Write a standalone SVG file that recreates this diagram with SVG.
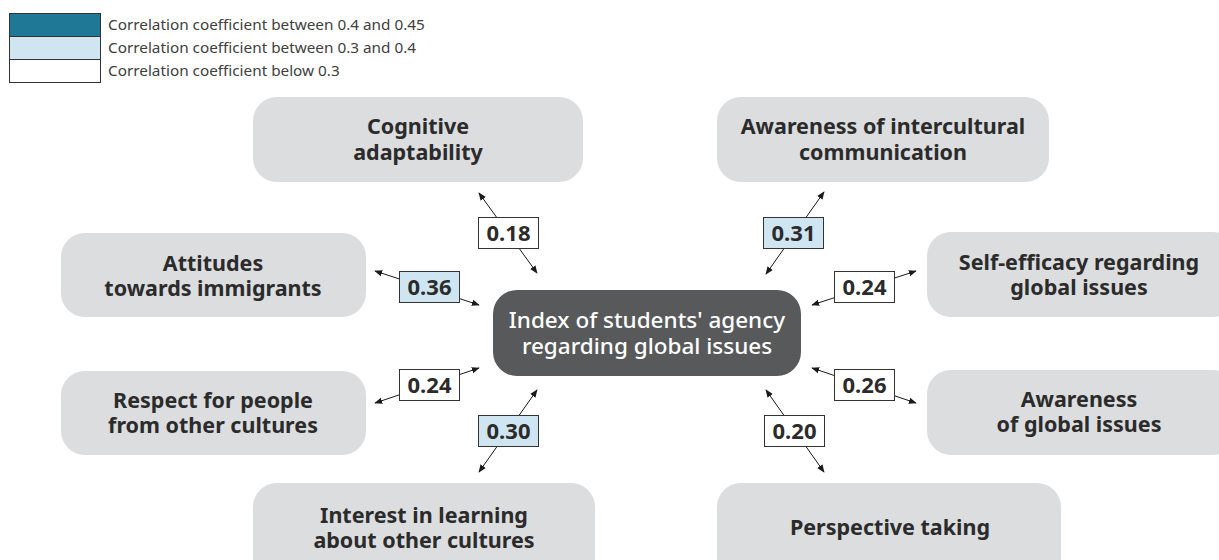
<svg xmlns="http://www.w3.org/2000/svg" width="1219" height="560" viewBox="0 0 1219 560">
  <defs>
    <marker id="tip" viewBox="0 0 10 10" refX="9" refY="5" markerWidth="8" markerHeight="8" markerUnits="userSpaceOnUse" orient="auto-start-reverse">
      <path d="M0,1 L10,5 L0,9 Z" fill="#1a1a1a"/>
    </marker>
    <style>
      .legend-txt { font-family: "Noto Sans", "Open Sans", sans-serif; font-size: 15.3px; fill: #404040; }
      .node rect { fill: #dcdddf; }
      .node text { font-family: "Noto Sans", "Open Sans", sans-serif; font-size: 21.5px; font-weight: bold; fill: #2b2b2b; text-anchor: middle; }
      .hub rect { fill: #58595b; }
      .hub text { font-family: "Noto Sans", "Open Sans", sans-serif; font-size: 22.5px; font-weight: 500; fill: #ffffff; text-anchor: middle; }
      .link { stroke: #1a1a1a; stroke-width: 1; fill: none; marker-start: url(#tip); marker-end: url(#tip); }
      .val rect { stroke: #333333; stroke-width: 1; }
      .val text { font-family: "Noto Sans", "Open Sans", sans-serif; font-size: 22px; font-weight: bold; fill: #2b2b2b; text-anchor: middle; }
      .lo { fill: #ffffff; }
      .mid { fill: #cfe5f1; }
      .hi { fill: #1e7896; }
    </style>
  </defs>

  <rect width="1219" height="560" fill="#ffffff"/>

  <!-- legend -->
  <g id="legend">
    <rect x="9.5" y="13.5" width="91" height="23" class="hi" stroke="#333" stroke-width="1"/>
    <rect x="9.5" y="36.5" width="91" height="23" class="mid" stroke="#333" stroke-width="1"/>
    <rect x="9.5" y="59.5" width="91" height="23" class="lo" stroke="#333" stroke-width="1"/>
    <text class="legend-txt" x="108" y="29.5">Correlation coefficient between 0.4 and 0.45</text>
    <text class="legend-txt" x="108" y="52.5">Correlation coefficient between 0.3 and 0.4</text>
    <text class="legend-txt" x="108" y="75.5">Correlation coefficient below 0.3</text>
  </g>

  <!-- outer nodes -->
  <g id="node-cognitive" class="node">
    <rect x="253" y="97" width="330" height="85" rx="24"/>
    <text x="418" y="134">Cognitive</text>
    <text x="418" y="160">adaptability</text>
  </g>
  <g id="node-intercultural" class="node">
    <rect x="717" y="97" width="332" height="85" rx="24"/>
    <text x="883" y="134">Awareness of intercultural</text>
    <text x="883" y="160">communication</text>
  </g>
  <g id="node-attitudes" class="node">
    <rect x="61" y="233" width="305" height="84" rx="24"/>
    <text x="213" y="271">Attitudes</text>
    <text x="213" y="296">towards immigrants</text>
  </g>
  <g id="node-selfefficacy" class="node">
    <rect x="927" y="232" width="310" height="85" rx="24"/>
    <text x="1079" y="270">Self-efficacy regarding</text>
    <text x="1079" y="295">global issues</text>
  </g>
  <g id="node-respect" class="node">
    <rect x="61" y="371" width="305" height="84" rx="24"/>
    <text x="213" y="408">Respect for people</text>
    <text x="213" y="433">from other cultures</text>
  </g>
  <g id="node-awareness-global" class="node">
    <rect x="927" y="370" width="310" height="85" rx="24"/>
    <text x="1079" y="407">Awareness</text>
    <text x="1079" y="432">of global issues</text>
  </g>
  <g id="node-interest" class="node">
    <rect x="253" y="483" width="342" height="100" rx="24"/>
    <text x="424" y="523">Interest in learning</text>
    <text x="424" y="548">about other cultures</text>
  </g>
  <g id="node-perspective" class="node">
    <rect x="717" y="483" width="344" height="100" rx="24"/>
    <text x="890" y="535">Perspective taking</text>
  </g>

  <!-- central index -->
  <g id="node-index" class="hub">
    <rect x="493" y="290" width="308" height="86" rx="24"/>
    <text x="647" y="328">Index of students' agency</text>
    <text x="647" y="354">regarding global issues</text>
  </g>

  <!-- double-headed connectors with correlation values -->
  <g id="connectors">
    <line class="link" x1="479" y1="193" x2="537" y2="273"/>
    <line class="link" x1="375" y1="271" x2="479" y2="305"/>
    <line class="link" x1="375" y1="403" x2="479" y2="368"/>
    <line class="link" x1="537" y1="390" x2="479" y2="472"/>
    <line class="link" x1="766" y1="390" x2="824" y2="472"/>
    <line class="link" x1="824" y1="192" x2="766" y2="274"/>
    <line class="link" x1="916" y1="271" x2="812" y2="305"/>
    <line class="link" x1="812" y1="368" x2="916" y2="403"/>

    <g class="val"><rect class="lo" x="478.5" y="217.5" width="60" height="31"/><text x="508.5" y="241">0.18</text></g>
    <g class="val"><rect class="mid" x="399.5" y="271.5" width="60" height="31"/><text x="429.5" y="295">0.36</text></g>
    <g class="val"><rect class="lo" x="399.5" y="369.5" width="60" height="31"/><text x="429.5" y="393">0.24</text></g>
    <g class="val"><rect class="mid" x="478.5" y="415.5" width="60" height="31"/><text x="508.5" y="439">0.30</text></g>
    <g class="val"><rect class="lo" x="764.5" y="415.5" width="60" height="31"/><text x="794.5" y="439">0.20</text></g>
    <g class="val"><rect class="mid" x="763.5" y="217.5" width="60" height="31"/><text x="793.5" y="241">0.31</text></g>
    <g class="val"><rect class="lo" x="834.5" y="271.5" width="60" height="31"/><text x="864.5" y="295">0.24</text></g>
    <g class="val"><rect class="lo" x="834.5" y="369.5" width="60" height="31"/><text x="864.5" y="393">0.26</text></g>
  </g>
</svg>
